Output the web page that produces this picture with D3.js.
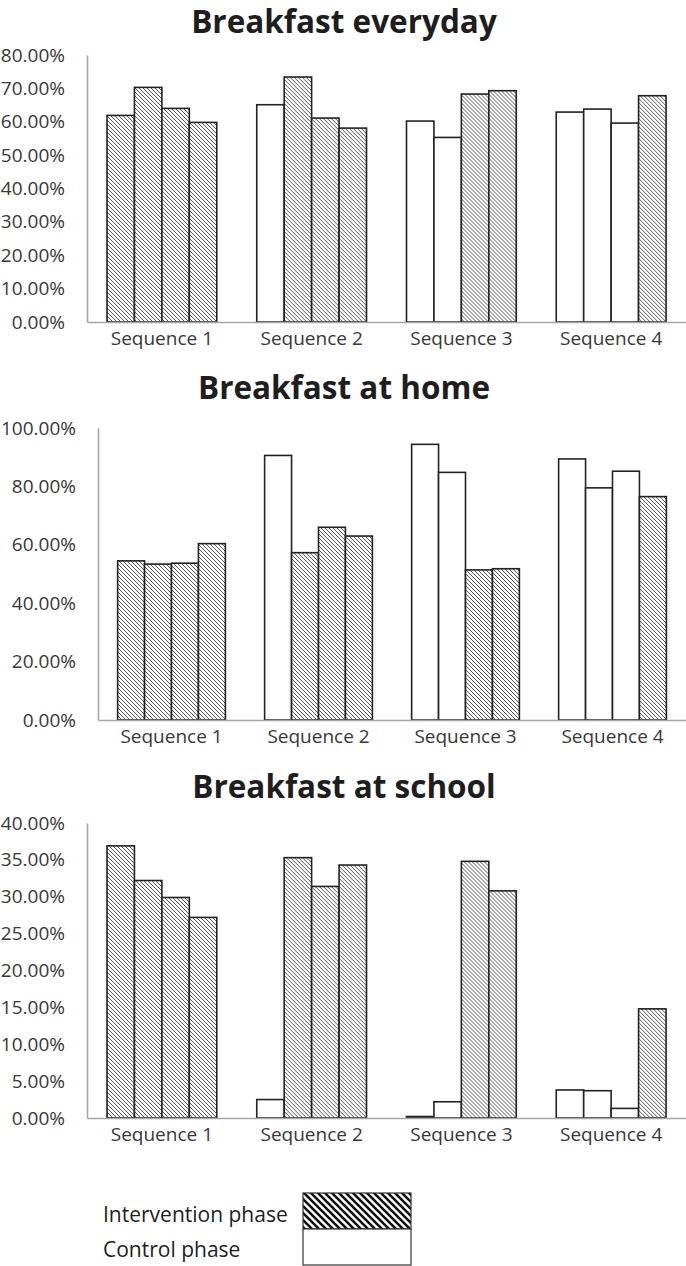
<!DOCTYPE html>
<html>
<head>
<meta charset="utf-8">
<script src="https://cdn.jsdelivr.net/npm/d3@7"></script>
<style>
  html, body { margin: 0; padding: 0; background: #fff; }
  svg { display: block; }
</style>
</head>
<body>
<svg id="chart" width="686" height="1266"></svg>
<script>
// ---- data ----
const categories = ["Sequence 1", "Sequence 2", "Sequence 3", "Sequence 4"];
// phase of each of the 4 bars per sequence: "I" = intervention, "C" = control
const phases = [["I","I","I","I"], ["C","I","I","I"], ["C","C","I","I"], ["C","C","C","I"]];
const titles = ["Breakfast everyday", "Breakfast at home", "Breakfast at school"];
const everyday = [[61.9, 70.3, 64.0, 59.8], [65.1, 73.4, 61.1, 58.1], [60.2, 55.3, 68.3, 69.3], [62.9, 63.8, 59.6, 67.8]];
const home     = [[54.5, 53.4, 53.7, 60.4], [90.6, 57.3, 66.0, 63.0], [94.4, 84.8, 51.4, 51.8], [89.4, 79.5, 85.2, 76.5]];
const school   = [[36.9, 32.2, 29.9, 27.2], [2.5, 35.3, 31.4, 34.3], [0.2, 2.2, 34.8, 30.8], [3.8, 3.7, 1.3, 14.8]];
const ticksEveryday = [0, 10, 20, 30, 40, 50, 60, 70, 80];
const ticksHome = [0, 20, 40, 60, 80, 100];
const ticksSchool = [0, 5, 10, 15, 20, 25, 30, 35, 40];
const legendLabels = ["Intervention phase", "Control phase"];

// ---- layout ----
const panels = [
  { title: titles[0], values: everyday, ticks: ticksEveryday, axisX: 87, top: 55, bottom: 322, titleY: 33 },
  { title: titles[1], values: home, ticks: ticksHome, axisX: 98, top: 428, bottom: 720, titleY: 399 },
  { title: titles[2], values: school, ticks: ticksSchool, axisX: 87, top: 823, bottom: 1118, titleY: 798 }
];
const rightEdge = 686;
const font = "'Open Sans', 'Noto Sans', sans-serif";

const svg = d3.select("#chart");
const defs = svg.append("defs");

// bar hatch (thin \ lines)
const pat = defs.append("pattern").attr("id", "hatch").attr("patternUnits", "userSpaceOnUse")
  .attr("width", 4).attr("height", 4);
pat.append("rect").attr("width", 4).attr("height", 4).attr("fill", "#fff");
pat.append("path").attr("d", "M-1,-1 L5,5 M-1,3 L1,5 M3,-1 L5,1")
  .attr("stroke", "#444").attr("stroke-width", 0.9);

// legend hatch (bold \ stripes)
const pat2 = defs.append("pattern").attr("id", "hatchBold").attr("patternUnits", "userSpaceOnUse")
  .attr("width", 7).attr("height", 7);
pat2.append("rect").attr("width", 7).attr("height", 7).attr("fill", "#fff");
pat2.append("path").attr("d", "M-2,-2 L9,9 M-2,5 L2,9 M5,-2 L9,2")
  .attr("stroke", "#111").attr("stroke-width", 2.6);

panels.forEach(p => {
  const g = svg.append("g");
  const yMax = d3.max(p.ticks);
  const y = d3.scaleLinear().domain([0, yMax]).range([p.bottom, p.top]);
  const x0 = d3.scaleBand().domain(categories).range([p.axisX, rightEdge]).padding(0);
  const W = x0.bandwidth();
  const x1 = d3.scaleBand().domain([0, 1, 2, 3]).range([W * 0.1335, W * 0.8665]).padding(0);

  // title
  g.append("text").attr("x", 344).attr("y", p.titleY)
    .attr("text-anchor", "middle")
    .attr("font-family", font).attr("font-weight", "bold").attr("font-size", 31.5)
    .attr("fill", "#1e1e1e").text(p.title);

  // bars
  categories.forEach((c, ci) => {
    const vals = p.values[ci];
    g.append("g").attr("transform", `translate(${x0(c)},0)`)
      .selectAll("rect").data(vals).join("rect")
      .attr("x", (d, i) => x1(i))
      .attr("width", x1.bandwidth())
      .attr("y", d => y(d))
      .attr("height", d => p.bottom - y(d))
      .attr("fill", (d, i) => phases[ci][i] === "I" ? "url(#hatch)" : "#fff")
      .attr("stroke", "#222").attr("stroke-width", 1.6);
  });

  // y axis
  const ya = g.append("g").attr("transform", `translate(${p.axisX},0)`)
    .call(d3.axisLeft(y).tickValues(p.ticks).tickSize(0).tickSizeOuter(0).tickPadding(22)
      .tickFormat(d => d.toFixed(2) + "%"));
  ya.select(".domain").attr("stroke", "#a6a6a6").attr("stroke-width", 1.6);
  ya.selectAll("text").attr("font-family", font).attr("font-size", 19).attr("fill", "#383838");

  // x axis
  const xa = g.append("g").attr("transform", `translate(0,${p.bottom})`)
    .call(d3.axisBottom(x0).tickSize(0).tickSizeOuter(0).tickPadding(10));
  xa.select(".domain").attr("stroke", "#a6a6a6").attr("stroke-width", 1.6);
  xa.selectAll("text").attr("font-family", font).attr("font-size", 19).attr("fill", "#383838");
});

// legend
const lg = svg.append("g");
const legFills = ["url(#hatchBold)", "#fff"];
legendLabels.forEach((t, i) => {
  lg.append("text").attr("x", 103).attr("y", 1222 + i * 35)
    .attr("font-family", font).attr("font-size", 21).attr("fill", "#1e1e1e").text(t);
  lg.append("rect").attr("x", 303).attr("y", 1193 + i * 36).attr("width", 108).attr("height", 36)
    .attr("fill", legFills[i]).attr("stroke", "#333").attr("stroke-width", 1.2);
});
</script>
</body>
</html>
